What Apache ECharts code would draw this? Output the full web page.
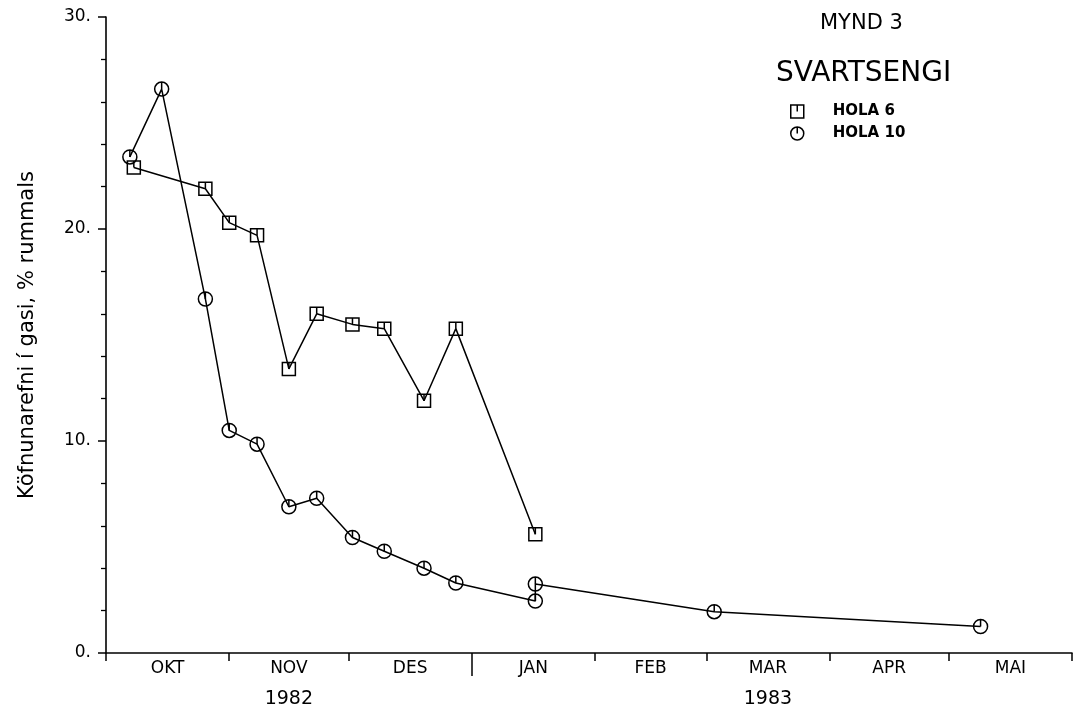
<!DOCTYPE html>
<html><head><meta charset="utf-8">
<script src="https://cdn.jsdelivr.net/npm/echarts@6/dist/echarts.min.js"></script>
<style>html,body{margin:0;padding:0;background:#fff}#c{width:1080px;height:711px}</style>
</head><body><div id="c"></div>
<script>
// ---- data ----
const monthLabels = ['OKT','NOV','DES','JAN','FEB','MAR','APR','MAI'];
const monthStarts = ['1982-10-01','1982-11-01','1982-12-01','1983-01-01','1983-02-01','1983-03-01','1983-04-01','1983-05-01','1983-06-01'];
const yearLabels = {NOV:'1982', MAR:'1983'};
const yearBreak = '1983-01-01';
const yMin = 0, yMax = 30, yStep = 10;

const hola6Dates  = ['1982-10-08','1982-10-26','1982-11-01','1982-11-08','1982-11-16','1982-11-23','1982-12-02','1982-12-10','1982-12-20','1982-12-28','1983-01-17'];
const hola6Values = [22.9, 21.9, 20.3, 19.7, 13.4, 16.0, 15.5, 15.3, 11.9, 15.3, 5.6];

const hola10Dates  = ['1982-10-07','1982-10-15','1982-10-26','1982-11-01','1982-11-08','1982-11-16','1982-11-23','1982-12-02','1982-12-10','1982-12-20','1982-12-28','1983-01-17','1983-01-17','1983-03-03','1983-05-09'];
const hola10Values = [23.4, 26.6, 16.7, 10.5, 9.85, 6.9, 7.3, 5.45, 4.8, 4.0, 3.3, 2.45, 3.25, 1.95, 1.25];

// ---- helpers: dates -> day number since the first month start ----
function ms(s){const p=s.split('-').map(Number);return Date.UTC(p[0],p[1]-1,p[2]);}
const T0 = ms(monthStarts[0]);
function day(s){return Math.round((ms(s)-T0)/86400000);}
const starts = monthStarts.map(day);
const mids = monthLabels.map((m,i)=>(starts[i]+starts[i+1])/2);
function monthAt(v){let bi=0,bd=Infinity;mids.forEach((m,i)=>{const d=Math.abs(m-v);if(d<bd){bd=d;bi=i;}});return monthLabels[bi];}

const FONT = 'DejaVu Sans';
const squareSym = 'path://M0,0L12,0L12,12L0,12Z M6,0L6,6';
const circleSym = 'path://M12,6A6,6,0,1,1,0,6A6,6,0,1,1,12,6Z M6,0L6,6';
const markStyle = {color:'rgba(0,0,0,0)', borderColor:'#000', borderWidth:1.5};

const chart = echarts.init(document.getElementById('c'), null, {renderer:'canvas'});
chart.setOption({
  animation:false,
  backgroundColor:'#fff',
  grid:{left:106, right:8, top:17, bottom:58},
  title:[
    {text:'MYND 3', left:820, top:13, padding:0, textStyle:{fontFamily:FONT, fontSize:21, fontWeight:'normal', color:'#000'}},
    {text:'SVARTSENGI', left:776, top:60, padding:0, textStyle:{fontFamily:FONT, fontSize:28, fontWeight:'normal', color:'#000'}}
  ],
  legend:{
    orient:'vertical', left:790, top:104, padding:0, itemWidth:13, itemHeight:13, itemGap:7,
    textStyle:{fontFamily:FONT, fontSize:15, fontWeight:'bold', color:'#000', padding:[0,0,0,24]},
    itemStyle:markStyle,
    data:[{name:'HOLA 6', icon:squareSym},{name:'HOLA 10', icon:circleSym}]
  },
  xAxis:[
    {
      type:'value', min:starts[0], max:starts[starts.length-1],
      axisLine:{show:true, onZero:false, lineStyle:{color:'#000', width:1.6}},
      axisTick:{show:true, customValues:starts, length:8, lineStyle:{color:'#000', width:1.5}},
      splitLine:{show:false},
      axisLabel:{
        customValues:mids, margin:6, color:'#000',
        formatter:function(v){const m=monthAt(v);return yearLabels[m]?'{m|'+m+'}\n{y|'+yearLabels[m]+'}':'{m|'+m+'}';},
        rich:{
          m:{fontFamily:FONT, fontSize:17, lineHeight:20, color:'#000'},
          y:{fontFamily:FONT, fontSize:19, lineHeight:40, color:'#000'}
        }
      }
    },
    {
      type:'value', position:'bottom', min:starts[0], max:starts[starts.length-1],
      axisLine:{show:false, onZero:false},
      axisTick:{show:true, customValues:[day(yearBreak)], length:23, lineStyle:{color:'#000', width:1.5}},
      axisLabel:{show:false}, splitLine:{show:false}
    }
  ],
  yAxis:{
    type:'value', min:yMin, max:yMax, interval:yStep,
    axisLine:{show:true, onZero:false, lineStyle:{color:'#000', width:1.6}},
    axisTick:{show:true, length:8, lineStyle:{color:'#000', width:1.5}},
    minorTick:{show:true, splitNumber:5, length:5, lineStyle:{color:'#000', width:1.3}},
    splitLine:{show:false},
    axisLabel:{formatter:v=>v+'.', color:'#000', fontFamily:FONT, fontSize:17, margin:15},
    name:'Köfnunarefni í gasi, % rummals', nameLocation:'middle', nameGap:68, nameRotate:90,
    nameTextStyle:{fontFamily:FONT, fontSize:21, color:'#000'}
  },
  series:[
    {name:'HOLA 6', type:'line', data:hola6Dates.map((d,i)=>[day(d),hola6Values[i]]),
     symbol:squareSym, symbolSize:13, itemStyle:markStyle, lineStyle:{color:'#000', width:1.5}},
    {name:'HOLA 10', type:'line', data:hola10Dates.map((d,i)=>[day(d),hola10Values[i]]),
     symbol:circleSym, symbolSize:14, itemStyle:markStyle, lineStyle:{color:'#000', width:1.5}}
  ]
});
</script></body></html>
